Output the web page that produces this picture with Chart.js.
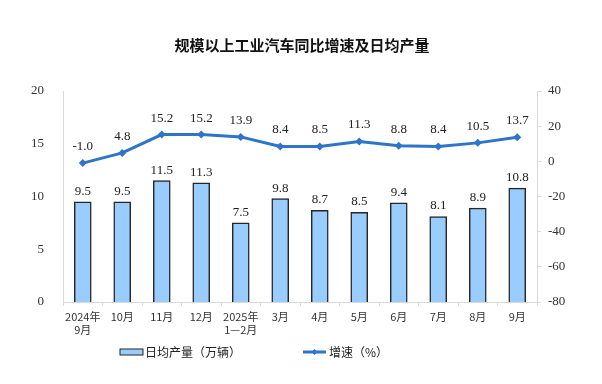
<!DOCTYPE html>
<html>
<head>
<meta charset="utf-8">
<script src="https://cdn.jsdelivr.net/npm/chart.js@4/dist/chart.umd.min.js"></script>
<style>
  body { margin: 0; background: #fff; }
  canvas { display: block; }
</style>
</head>
<body>
<canvas id="grafica" width="602" height="384"></canvas>
<script>
const labels = [['2024年', '9月'], '10月', '11月', '12月', ['2025年', '1—2月'], '3月', '4月', '5月', '6月', '7月', '8月', '9月'];
const output = [9.5, 9.5, 11.5, 11.3, 7.5, 9.8, 8.7, 8.5, 9.4, 8.1, 8.9, 10.8];
const growth = [-1.0, 4.8, 15.2, 15.2, 13.9, 8.4, 8.5, 11.3, 8.8, 8.4, 10.5, 13.7];
const leftTicks = [0, 5, 10, 15, 20];
const rightTicks = [-80, -60, -40, -20, 0, 20, 40];

const serif = '"Liberation Serif", "Times New Roman", serif';
const cjk = '"Noto Sans CJK SC", sans-serif';

// value labels above bars and points
const valueLabels = {
  id: 'valueLabels',
  afterDatasetsDraw(chart) {
    const ctx = chart.ctx;
    ctx.save();
    ctx.fillStyle = '#222';
    ctx.font = '13px ' + serif;
    ctx.textAlign = 'center';
    ctx.textBaseline = 'bottom';
    chart.getDatasetMeta(0).data.forEach((el, i) => {
      ctx.fillText(output[i].toFixed(1), el.x, el.y - 4);
    });
    chart.getDatasetMeta(1).data.forEach((el, i) => {
      ctx.fillText(growth[i].toFixed(1), el.x, el.y - 10);
    });
    ctx.restore();
  }
};

// title and legend
const decor = {
  id: 'decor',
  afterDraw(chart) {
    const ctx = chart.ctx;
    ctx.save();
    ctx.fillStyle = '#111';
    ctx.font = 'bold 15px ' + cjk;
    ctx.textAlign = 'center';
    ctx.textBaseline = 'middle';
    ctx.fillText('规模以上工业汽车同比增速及日均产量', 302, 45);

    const ly = 352;
    ctx.font = '12px ' + cjk;
    ctx.textAlign = 'left';
    // bar item
    ctx.fillStyle = '#99CCFF';
    ctx.fillRect(120, ly - 3, 23, 6);
    ctx.strokeStyle = '#262626';
    ctx.lineWidth = 1;
    ctx.strokeRect(120, ly - 3, 23, 6);
    ctx.fillStyle = '#222';
    ctx.fillText(chart.data.datasets[0].label, 145, ly);
    // line item
    ctx.strokeStyle = '#2E75C8';
    ctx.lineWidth = 3;
    ctx.beginPath();
    ctx.moveTo(303, ly);
    ctx.lineTo(326, ly);
    ctx.stroke();
    ctx.fillStyle = '#2E75C8';
    ctx.beginPath();
    ctx.moveTo(314.5, ly - 3);
    ctx.lineTo(317.5, ly);
    ctx.lineTo(314.5, ly + 3);
    ctx.lineTo(311.5, ly);
    ctx.closePath();
    ctx.fill();
    ctx.fillStyle = '#222';
    ctx.fillText(chart.data.datasets[1].label, 329, ly);
    ctx.restore();
  }
};

const graph = document.querySelector('#grafica');

const data = {
  labels: labels,
  datasets: [{
    type: 'bar',
    label: '日均产量（万辆）',
    data: output,
    yAxisID: 'y',
    backgroundColor: '#99CCFF',
    borderColor: '#262626',
    borderWidth: 1.5,
    barThickness: 17,
    order: 2
  }, {
    type: 'line',
    label: '增速（%）',
    data: growth,
    yAxisID: 'y1',
    borderColor: '#2E75C8',
    backgroundColor: '#2E75C8',
    borderWidth: 3,
    pointStyle: 'rectRot',
    pointRadius: 4,
    pointBorderWidth: 0,
    tension: 0,
    order: 1
  }]
};

const config = {
  data: data,
  options: {
    responsive: false,
    animation: false,
    layout: { padding: { top: 91, left: 0, right: 0, bottom: 0 } },
    plugins: {
      legend: { display: false },
      title: { display: false },
      tooltip: { enabled: false }
    },
    scales: {
      x: {
        grid: { offset: true, drawOnChartArea: false, tickLength: 4, color: '#d9d9d9' },
        border: { color: '#d9d9d9' },
        ticks: { color: '#333', font: { family: cjk, size: 11 }, padding: 4, maxRotation: 0, autoSkip: false },
        afterFit(s) { s.height = 82; }
      },
      y: {
        position: 'left',
        min: 0, max: 20,
        afterBuildTicks(s) { s.ticks = leftTicks.map(v => ({ value: v })); },
        grid: { display: false },
        border: { color: '#d9d9d9' },
        ticks: { color: '#333', font: { family: serif, size: 13 }, padding: 11 },
        afterFit(s) { s.width = 63; }
      },
      y1: {
        position: 'right',
        min: -80, max: 40,
        afterBuildTicks(s) { s.ticks = rightTicks.map(v => ({ value: v })); },
        grid: { drawOnChartArea: false, tickLength: 4, color: '#d9d9d9' },
        border: { color: '#d9d9d9' },
        ticks: { color: '#333', font: { family: serif, size: 13 }, padding: 7 },
        afterFit(s) { s.width = 65; }
      }
    }
  },
  plugins: [valueLabels, decor]
};
new Chart(graph, config);
</script>
</body>
</html>
